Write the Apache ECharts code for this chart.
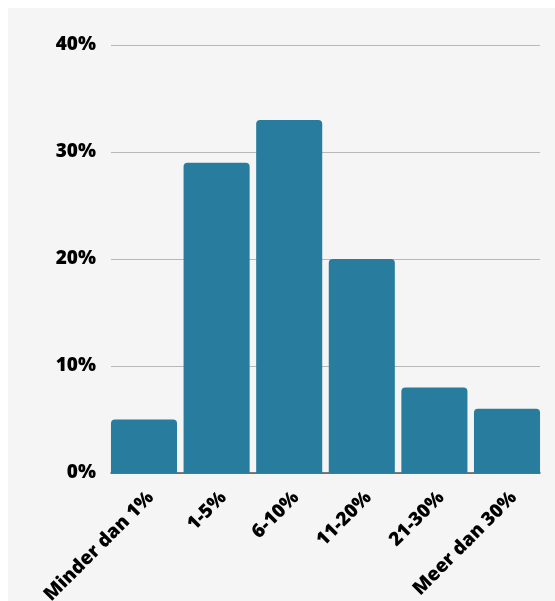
<!DOCTYPE html>
<html>
<head>
<meta charset="utf-8">
<script src="https://cdn.jsdelivr.net/npm/echarts@6/dist/echarts.min.js"></script>
<style>
html,body{margin:0;padding:0;background:#ffffff;}
#c{position:absolute;left:8px;top:8px;width:547px;height:593px;background:#f5f5f5;}
</style>
</head>
<body>
<div id="c"></div>
<script>
const categories = ['Minder dan 1%', '1-5%', '6-10%', '11-20%', '21-30%', 'Meer dan 30%'];
const values = [5, 29, 33, 20, 8, 6];
const yTicks = [0, 10, 20, 30, 40];

const chart = echarts.init(document.getElementById('c'), null, {renderer: 'canvas'});
chart.setOption({
  backgroundColor: '#f5f5f5',
  animation: false,
  grid: [
    {left: 99.7, right: 11.7, top: 37, bottom: 128, containLabel: false, outerBoundsMode: 'none'},
    {left: 103, right: 15, top: 37, bottom: 128, containLabel: false, outerBoundsMode: 'none'}
  ],
  xAxis: [{
    type: 'category',
    gridIndex: 0,
    data: categories,
    axisTick: {show: false},
    axisLine: {show: false},
    axisLabel: {
      rotate: 45,
      interval: 0,
      margin: 15,
      verticalAlign: 'top',
      color: '#000000',
      fontFamily: 'Open Sans',
      fontWeight: 800,
      fontSize: 19
    }
  }, {
    type: 'value',
    gridIndex: 1,
    min: 0, max: 1,
    axisLine: {show: true, onZero: false, lineStyle: {color: '#555555', width: 1.5}},
    axisTick: {show: false},
    axisLabel: {show: false},
    splitLine: {show: false}
  }],
  yAxis: [{
    type: 'value',
    gridIndex: 0,
    min: yTicks[0],
    max: yTicks[yTicks.length - 1],
    interval: 10,
    axisLine: {show: false},
    axisTick: {show: false},
    splitLine: {show: false},
    axisLabel: {show: false}
  }, {
    type: 'value',
    gridIndex: 1,
    min: yTicks[0],
    max: yTicks[yTicks.length - 1],
    interval: 10,
    axisLine: {show: false},
    axisTick: {show: false},
    splitLine: {lineStyle: {color: '#b8b8b8', width: 1}},
    axisLabel: {
      formatter: '{value}%',
      margin: 15,
      padding: [8, 0, 0, 0],
      color: '#000000',
      fontFamily: 'Open Sans',
      fontWeight: 800,
      fontSize: 19
    }
  }],
  series: [{
    type: 'bar',
    xAxisIndex: 0,
    yAxisIndex: 0,
    data: values,
    barCategoryGap: '9%',
    z: 3,
    itemStyle: {color: '#287d9e', borderRadius: [4, 4, 0, 0]}
  }]
});
</script>
</body>
</html>
